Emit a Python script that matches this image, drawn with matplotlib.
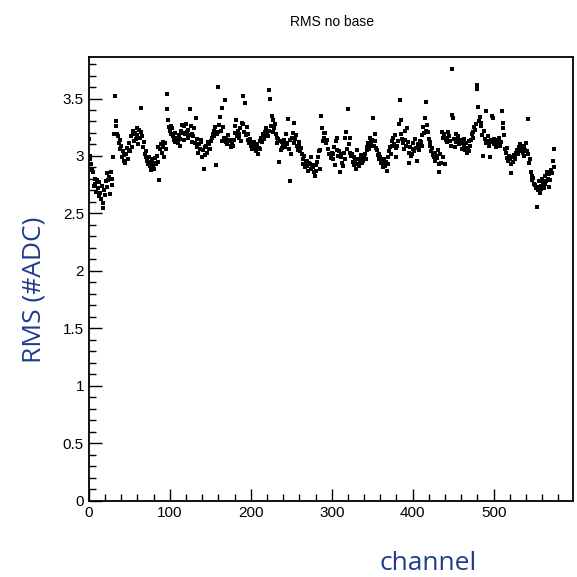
import numpy as np
import matplotlib
matplotlib.use("Agg")
from matplotlib import pyplot as plt
from matplotlib.ticker import MultipleLocator

# RMS per channel (10 channels per row)
rms = [
    3.15, 2.97, 3.00, 2.93, 2.88, 2.86, 2.74, 2.80, 2.76, 2.69,
    2.79, 2.72, 2.77, 2.65, 2.68, 2.63, 2.74, 2.59, 2.55, 2.70,
    2.66, 2.78, 2.85, 2.73, 2.79, 2.82, 2.67, 2.86, 2.80, 2.75,
    2.99, 3.19, 3.52, 3.30, 3.26, 3.19, 3.17, 3.11, 3.06, 3.14,
    3.09, 2.99, 3.04, 2.96, 3.01, 2.94, 3.02, 3.07, 2.97, 3.05,
    3.11, 3.04, 3.17, 3.08, 3.19, 3.22, 3.13, 3.20, 3.15, 3.24,
    3.18, 3.10, 3.23, 3.16, 3.21, 3.42, 3.17, 3.08, 3.12, 3.02,
    2.99, 3.04, 2.96, 2.93, 2.99, 2.91, 2.95, 2.88, 2.97, 2.92,
    2.94, 2.89, 2.98, 2.93, 3.00, 2.95, 3.08, 2.79, 3.06, 3.10,
    3.03, 3.08, 3.12, 2.99, 3.11, 3.06, 3.41, 3.54, 3.31, 3.25,
    3.22, 3.26, 3.19, 3.24, 3.17, 3.14, 3.20, 3.12, 3.16, 3.13,
    3.11, 3.18, 3.09, 3.15, 3.22, 3.27, 3.20, 3.14, 3.26, 3.19,
    3.28, 3.21, 3.16, 3.23, 3.18, 3.41, 3.26, 3.19, 3.12, 3.17,
    3.24, 3.11, 3.33, 3.15, 3.08, 3.03, 3.10, 3.06, 3.12, 3.14,
    2.99, 3.05, 2.89, 3.01, 3.08, 3.09, 3.03, 3.12, 3.10, 3.06,
    3.06, 3.13, 3.16, 3.19, 3.22, 3.17, 3.25, 2.92, 3.19, 3.21,
    3.60, 3.27, 3.34, 3.22, 3.42, 3.13, 3.25, 3.16, 3.49, 3.12,
    3.15, 3.10, 3.18, 3.13, 3.14, 3.09, 3.08, 3.12, 3.09, 3.14,
    3.26, 3.20, 3.31, 3.17, 3.22, 3.16, 3.19, 3.24, 3.13, 3.29,
    3.28, 3.52, 3.21, 3.46, 3.18, 3.25, 3.14, 3.19, 3.11, 3.15,
    3.09, 3.11, 3.06, 3.09, 3.12, 3.08, 3.04, 3.05, 3.10, 3.02,
    3.07, 3.06, 3.13, 3.16, 3.12, 3.19, 3.15, 3.21, 3.18, 3.24,
    3.20, 3.17, 3.22, 3.57, 3.50, 3.26, 3.35, 3.21, 3.31, 3.24,
    3.28, 3.19, 3.16, 3.11, 3.15, 2.95, 3.13, 3.05, 3.12, 3.07,
    3.09, 3.14, 3.08, 3.11, 3.19, 3.10, 3.32, 3.06, 3.14, 2.78,
    3.02, 3.16, 3.20, 3.11, 3.29, 3.15, 3.18, 3.09, 3.05, 3.12,
    3.09, 3.04, 3.07, 3.02, 2.97, 2.93, 3.00, 2.90, 2.95, 2.96,
    2.91, 2.87, 2.94, 2.93, 2.89, 2.99, 2.92, 2.90, 2.86, 2.83,
    2.92, 2.87, 2.95, 2.99, 3.04, 3.05, 2.89, 3.35, 3.24, 3.13,
    3.20, 3.16, 3.20, 3.11, 3.14, 3.06, 3.06, 3.02, 3.02, 2.98,
    3.03, 2.97, 3.02, 3.08, 2.92, 3.13, 3.05, 3.16, 3.00, 3.04,
    2.86, 3.02, 2.99, 2.94, 2.91, 3.03, 3.16, 2.97, 3.21, 3.06,
    3.41, 3.10, 3.03, 3.16, 3.00, 3.02, 2.95, 2.99, 2.92, 2.96,
    2.89, 3.05, 2.93, 2.97, 2.91, 2.96, 3.01, 2.99, 2.94, 2.96,
    3.00, 3.02, 2.97, 3.05, 3.08, 3.11, 3.06, 3.16, 3.12, 3.09,
    3.14, 3.33, 3.09, 3.19, 3.13, 3.07, 3.05, 3.01, 3.02, 2.97,
    2.99, 2.94, 2.96, 2.90, 2.93, 2.97, 2.91, 2.95, 2.87, 2.93,
    2.99, 3.04, 3.08, 3.02, 3.09, 3.13, 3.16, 3.10, 3.18, 3.07,
    2.99, 3.09, 3.13, 3.28, 3.49, 3.31, 3.19, 3.15, 3.11, 3.06,
    3.22, 3.14, 3.09, 3.24, 3.12, 2.94, 3.03, 3.08, 3.00, 3.02,
    3.06, 3.11, 3.04, 3.15, 3.07, 2.96, 3.10, 3.09, 3.05, 3.13,
    3.12, 3.09, 3.18, 3.25, 3.20, 3.33, 3.47, 3.22, 3.27, 3.21,
    3.15, 3.09, 3.12, 3.04, 3.07, 3.01, 2.99, 3.03, 2.96, 3.00,
    2.98, 3.05, 2.93, 2.86, 3.02, 2.94, 3.21, 3.16, 2.99, 3.19,
    2.93, 3.14, 3.16, 3.12, 3.21, 3.17, 3.13, 3.09, 3.76, 3.36,
    3.33, 3.15, 3.08, 3.19, 3.12, 3.14, 3.17, 3.10, 3.13, 3.11,
    3.14, 3.06, 3.12, 3.15, 3.09, 3.05, 3.11, 3.03, 3.07, 3.13,
    3.04, 3.09, 3.14, 3.19, 3.16, 3.21, 3.25, 3.23, 3.28, 3.62,
    3.58, 3.43, 3.30, 3.34, 3.26, 3.29, 3.18, 3.00, 3.22, 3.15,
    3.11, 3.39, 3.13, 3.17, 3.09, 3.12, 2.99, 3.14, 3.35, 3.33,
    3.15, 3.10, 3.12, 3.08, 3.13, 3.11, 3.14, 3.16, 3.09, 3.12,
    3.39, 3.29, 3.24, 3.18, 3.06, 3.03, 3.07, 2.98, 2.96, 3.00,
    2.97, 2.93, 2.85, 2.99, 2.95, 3.01, 2.97, 3.00, 3.03, 3.05,
    3.02, 3.08, 3.06, 3.10, 3.04, 3.07, 3.03, 3.00, 3.09, 3.05,
    3.11, 3.04, 3.32, 3.02, 2.94, 2.97, 2.86, 2.83, 2.79, 2.81,
    2.76, 2.75, 2.72, 2.56, 2.73, 2.70, 2.78, 2.68, 2.71, 2.74,
    2.80, 2.77, 2.72, 2.76, 2.83, 2.78, 2.86, 2.80, 2.84, 2.73,
    2.79, 2.88, 2.85, 2.96, 2.90, 3.06,
]
channel = np.arange(len(rms))

title = "RMS no base"
xlabel = "channel"
ylabel = "RMS (#ADC)"
label_blue = "#1f3c8c"

fig = plt.figure(figsize=(5.77, 5.77), dpi=100)
ax = fig.add_axes([0.154, 0.132, 0.839, 0.769])

ax.plot(channel, rms, linestyle="none", marker="s", markersize=3.0,
        color="black", markeredgewidth=0)

ax.set_xlim(0, 598)
ax.set_ylim(0, 3.86)

ax.xaxis.set_major_locator(MultipleLocator(100))
ax.xaxis.set_minor_locator(MultipleLocator(20))
ax.yaxis.set_major_locator(MultipleLocator(0.5))
ax.yaxis.set_minor_locator(MultipleLocator(0.1))
ax.set_yticks([0, 0.5, 1, 1.5, 2, 2.5, 3, 3.5])
ax.set_yticklabels(["0", "0.5", "1", "1.5", "2", "2.5", "3", "3.5"])

ax.tick_params(which="both", direction="in", top=False, right=False,
               width=1.0, labelsize=11)
ax.tick_params(which="major", length=9)
ax.tick_params(which="minor", length=5)
for lab in ax.get_xticklabels() + ax.get_yticklabels():
    lab.set_family("Liberation Sans")
for s in ax.spines.values():
    s.set_linewidth(1.3)

fig.text(0.575, 1 - 22 / 577, title, ha="center", va="center",
         fontsize=10, family="Liberation Sans")
fig.text(428 / 577, 1 - 563 / 577, xlabel, ha="center", va="center",
         fontsize=19, color=label_blue, family="Open Sans")
fig.text(34 / 577, 1 - 290 / 577, ylabel, ha="center", va="center",
         rotation=90, fontsize=19, color=label_blue, family="Open Sans")

fig.savefig("out.png", dpi=100, facecolor="white")
